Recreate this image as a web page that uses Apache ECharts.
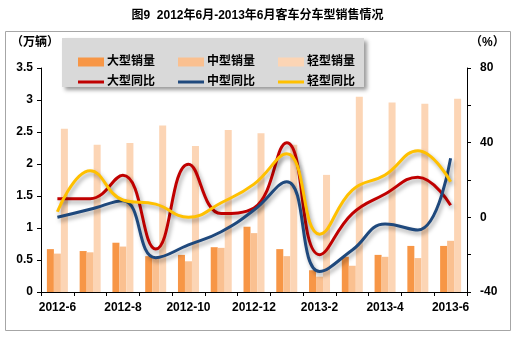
<!DOCTYPE html>
<html><head><meta charset="utf-8">
<script src="https://cdn.jsdelivr.net/npm/echarts@6/dist/echarts.min.js"></script>
<style>html,body{margin:0;padding:0;background:#fff}#c{width:515px;height:338px}</style>
</head><body><div id="c"></div>
<script>
var categories = ['2012-6','2012-7','2012-8','2012-9','2012-10','2012-11','2012-12','2013-1','2013-2','2013-3','2013-4','2013-5','2013-6'];
var largeSales  = [0.67,0.64,0.77,0.56,0.58,0.70,1.02,0.67,0.34,0.55,0.58,0.72,0.72];
var mediumSales = [0.60,0.62,0.71,0.55,0.48,0.69,0.92,0.56,0.24,0.41,0.55,0.53,0.80];
var lightSales  = [2.55,2.30,2.33,2.60,2.28,2.53,2.48,2.30,1.83,3.05,2.96,2.94,3.02];
var largeYoY  = [10,10,22.5,-17,28.5,2,5,40,-20,2,12.5,21.5,6.5];
var mediumYoY = [0,4.3,8.9,-21.6,-14.8,-7.7,3.9,19.1,-29,-17.5,-3.6,-6.8,31.6];
var lightYoY  = [3,25,9.3,7.1,0,7.8,17.8,34,-9,14.6,22.7,35.7,19.1];
var leftTicks = [0,0.5,1,1.5,2,2.5,3,3.5];
var rightLabels = [-40,0,40,80];

var FONT = "'Liberation Sans','Noto Sans CJK SC',sans-serif";
var chart = echarts.init(document.getElementById('c'), null, {renderer:'canvas'});
var lineShadow = {shadowColor:'rgba(0,0,0,0.35)', shadowBlur:4, shadowOffsetX:2, shadowOffsetY:3};
function lineSeries(name, data, color){
  return {name:name, type:'line', yAxisIndex:1, data:data, smooth:0.45, showSymbol:false, symbol:'none',
    lineStyle:Object.assign({color:color, width:3}, lineShadow), itemStyle:{color:color}, z:5};
}
function barSeries(name, data, color){
  return {name:name, type:'bar', yAxisIndex:0, data:data, barWidth:7, barGap:'0%', itemStyle:{color:color}};
}
var option = {
  animation:false,
  textStyle:{fontFamily:FONT},
  title:{text:'图9  2012年6月-2013年6月客车分车型销售情况', left:'center', top:5,
    textStyle:{fontSize:12, fontWeight:'bold', color:'#000', fontFamily:FONT}},
  graphic:[
    {type:'rect', shape:{x:5.5,y:31.5,width:505,height:299}, style:{fill:null, stroke:'#a6a6a6', lineWidth:1}, z:-10},
    {type:'rect', shape:{x:62,y:38,width:302,height:49}, style:{fill:'#d9d9d9', shadowColor:'rgba(0,0,0,0.4)', shadowBlur:4, shadowOffsetX:3, shadowOffsetY:3}, z:-5},
    {type:'text', left:11, top:37, style:{text:'（万辆）', fontSize:12, fontWeight:'bold', fill:'#000', fontFamily:FONT}},
    {type:'text', left:470, top:37, style:{text:'（%）', fontSize:12, fontWeight:'bold', fill:'#000', fontFamily:FONT}}
  ],
  legend:[
    {data:['大型销量','中型销量','轻型销量'], left:73, top:51, itemWidth:26, itemHeight:9, itemGap:23, icon:'rect',
     textStyle:{fontSize:12, fontWeight:'bold', color:'#000', fontFamily:FONT, padding:[0,0,0,-2]}},
    {data:['大型同比','中型同比','轻型同比'], left:73, top:71, itemWidth:26, itemHeight:3, itemGap:23, icon:'rect',
     textStyle:{fontSize:12, fontWeight:'bold', color:'#000', fontFamily:FONT, padding:[0,0,0,-2]}}
  ],
  grid:{left:41, right:48, top:68, bottom:46, containLabel:false},
  xAxis:{type:'category', data:categories, boundaryGap:true,
    axisLine:{lineStyle:{color:'#000', width:1}},
    axisTick:{show:true, interval:0, length:4, lineStyle:{color:'#000'}},
    axisLabel:{interval:1, margin:10, fontSize:12, fontWeight:'bold', color:'#000', fontFamily:FONT}},
  yAxis:[
    {type:'value', min:0, max:3.5, interval:0.5, position:'left',
     axisLine:{show:true, lineStyle:{color:'#000'}},
     axisTick:{show:true, length:4, lineStyle:{color:'#000'}},
     splitLine:{show:false},
     axisLabel:{margin:8, fontSize:12, fontWeight:'bold', color:'#000', fontFamily:FONT,
       formatter:function(v){ for (var i=0;i<leftTicks.length;i++){ if (Math.abs(leftTicks[i]-v)<1e-6) return String(leftTicks[i]); } return ''; }}},
    {type:'value', min:-40, max:80, interval:20, position:'right',
     axisLine:{show:true, lineStyle:{color:'#000'}},
     axisTick:{show:true, length:4, lineStyle:{color:'#000'}},
     splitLine:{show:false},
     axisLabel:{margin:13, fontSize:12, fontWeight:'bold', color:'#000', fontFamily:FONT,
       formatter:function(v){ return rightLabels.indexOf(v) >= 0 ? String(v) : ''; }}}
  ],
  series:[
    barSeries('大型销量', largeSales, '#f79646'),
    barSeries('中型销量', mediumSales, '#fac090'),
    barSeries('轻型销量', lightSales, '#fcd5b5'),
    lineSeries('大型同比', largeYoY, '#c00000'),
    lineSeries('中型同比', mediumYoY, '#1f497d'),
    lineSeries('轻型同比', lightYoY, '#ffc000')
  ]
};
chart.setOption(option);
</script></body></html>
